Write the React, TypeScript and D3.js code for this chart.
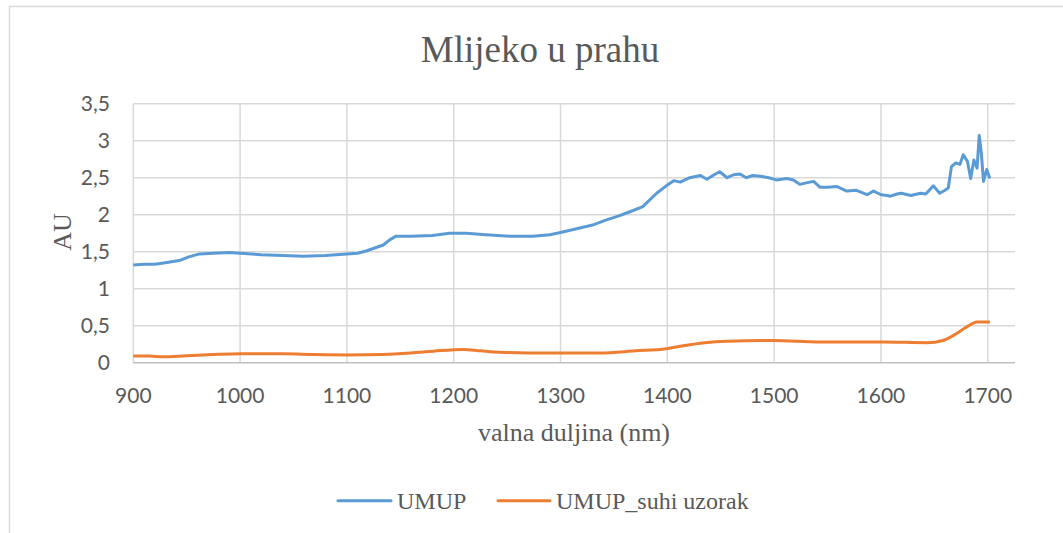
import React from 'react';
import * as d3 from 'd3';

// UMUP (blue) – wavelength / absorbance
const umupNm = [900, 910, 920, 930, 943, 952, 962, 975, 990, 1000, 1020, 1040, 1059, 1080, 1100, 1110, 1118, 1126, 1134, 1140, 1146, 1160, 1180, 1196, 1212, 1230, 1253, 1274, 1290, 1300, 1315, 1330, 1343, 1354, 1365, 1377, 1390, 1399, 1406, 1412, 1421, 1431, 1437, 1445, 1449, 1456, 1462, 1468, 1474, 1480, 1487, 1495, 1502, 1512, 1518, 1524, 1530, 1537, 1543, 1550, 1559, 1568, 1577, 1587, 1593, 1600, 1606, 1609, 1615, 1619, 1628, 1637, 1642, 1649, 1655, 1660, 1663, 1666, 1670, 1674, 1677, 1681, 1684, 1687, 1690, 1692, 1694, 1696, 1699, 1702];
const umupAU = [1.32, 1.33, 1.33, 1.35, 1.38, 1.43, 1.47, 1.48, 1.49, 1.48, 1.46, 1.45, 1.44, 1.45, 1.47, 1.48, 1.51, 1.55, 1.59, 1.66, 1.71, 1.71, 1.72, 1.75, 1.75, 1.73, 1.71, 1.71, 1.73, 1.76, 1.81, 1.86, 1.93, 1.98, 2.04, 2.11, 2.29, 2.39, 2.46, 2.44, 2.5, 2.53, 2.48, 2.55, 2.58, 2.5, 2.54, 2.55, 2.5, 2.53, 2.52, 2.5, 2.47, 2.49, 2.47, 2.41, 2.43, 2.45, 2.37, 2.37, 2.38, 2.32, 2.33, 2.27, 2.32, 2.27, 2.26, 2.25, 2.28, 2.29, 2.26, 2.29, 2.28, 2.39, 2.29, 2.33, 2.36, 2.65, 2.7, 2.68, 2.81, 2.72, 2.49, 2.74, 2.63, 3.07, 2.83, 2.45, 2.61, 2.49];

// UMUP_suhi uzorak (orange)
const suhiNm = [900, 915, 928, 950, 975, 1001, 1040, 1070, 1100, 1134, 1160, 1181, 1209, 1225, 1243, 1290, 1337, 1370, 1399, 1415, 1435, 1456, 1499, 1543, 1602, 1643, 1658, 1668, 1680, 1690, 1702];
const suhiAU = [0.09, 0.09, 0.08, 0.095, 0.11, 0.12, 0.12, 0.11, 0.105, 0.11, 0.13, 0.155, 0.18, 0.16, 0.14, 0.13, 0.13, 0.16, 0.19, 0.23, 0.27, 0.29, 0.3, 0.28, 0.28, 0.27, 0.3, 0.37, 0.48, 0.55, 0.55];

const xTicks = [900, 1000, 1100, 1200, 1300, 1400, 1500, 1600, 1700];
const yTicks = [0, 0.5, 1, 1.5, 2, 2.5, 3, 3.5];

const seriesNames = ['UMUP', 'UMUP_suhi uzorak'];
const seriesColors = ['#5B9BD5', '#ED7D31'];

const W = 1063;
const H = 533;
const plot = { left: 133.3, right: 1015, top: 103.7, bottom: 362.7 };

export default function App() {
  const x = d3.scaleLinear().domain([900, 1725.5]).range([plot.left, plot.right]);
  const y = d3.scaleLinear().domain([0, 3.5]).range([plot.bottom, plot.top]);

  const line = d3.line<[number, number]>()
    .x(d => x(d[0]))
    .y(d => y(d[1]));
  const smooth = d3.line<[number, number]>()
    .x(d => x(d[0]))
    .y(d => y(d[1]))
    .curve(d3.curveMonotoneX);

  const umup = umupNm.map((n, i) => [n, umupAU[i]] as [number, number]);
  const suhi = suhiNm.map((n, i) => [n, suhiAU[i]] as [number, number]);

  const tickFont = 'Lato, "Open Sans", sans-serif';
  const serif = '"Liberation Serif", "DejaVu Serif", serif';
  const fmt = (v: number) => String(v).replace('.', ',');

  return (
    <svg width={W} height={H} style={{ position: 'absolute', left: 0, top: 0 }}>
      <rect x={0} y={0} width={W} height={H} fill="#fff" />
      <rect x={9.5} y={6.5} width={1070} height={560} fill="none" stroke="#D9D9D9" strokeWidth={1.5} />

      <text x={540} y={62} textAnchor="middle" fontFamily={serif} fontSize={37} fill="#595959">
        Mlijeko u prahu
      </text>

      {/* grid */}
      {yTicks.filter(t => t > 0).map(t => (
        <line key={'gy' + t} x1={plot.left} x2={plot.right} y1={y(t)} y2={y(t)} stroke="#D9D9D9" strokeWidth={1.5} />
      ))}
      {xTicks.filter(t => t > 900).map(t => (
        <line key={'gx' + t} x1={x(t)} x2={x(t)} y1={plot.top} y2={plot.bottom} stroke="#D9D9D9" strokeWidth={1.5} />
      ))}
      <line x1={plot.left} x2={plot.left} y1={plot.top} y2={plot.bottom} stroke="#D9D9D9" strokeWidth={1.5} />
      <line x1={plot.left} x2={plot.right} y1={plot.bottom} y2={plot.bottom} stroke="#BFBFBF" strokeWidth={1.5} />

      {/* tick labels */}
      {yTicks.map(t => (
        <text key={'ly' + t} x={110} y={y(t)} dy="0.35em" textAnchor="end" fontFamily={tickFont} fontSize={21} fill="#595959">
          {fmt(t)}
        </text>
      ))}
      {xTicks.map(t => (
        <text key={'lx' + t} x={x(t)} y={402.5} textAnchor="middle" fontFamily={tickFont} fontSize={21} fill="#595959">
          {t}
        </text>
      ))}

      {/* axis titles */}
      <text x={574} y={441} textAnchor="middle" fontFamily={serif} fontSize={26} fill="#595959">
        valna duljina (nm)
      </text>
      <text transform="translate(71,232) rotate(-90)" textAnchor="middle" fontFamily={serif} fontSize={26} fill="#595959">
        AU
      </text>

      {/* series */}
      <path d={smooth(suhi) || ''} fill="none" stroke={seriesColors[1]} strokeWidth={3} strokeLinejoin="round" />
      <path d={line(umup) || ''} fill="none" stroke={seriesColors[0]} strokeWidth={3} strokeLinejoin="round" />

      {/* legend */}
      <line x1={338} x2={391} y1={500.7} y2={500.7} stroke={seriesColors[0]} strokeWidth={3} strokeLinecap="round" />
      <text x={397} y={509} fontFamily={serif} fontSize={24} fill="#595959">{seriesNames[0]}</text>
      <line x1={498} x2={550} y1={500.7} y2={500.7} stroke={seriesColors[1]} strokeWidth={3} strokeLinecap="round" />
      <text x={556} y={509} fontFamily={serif} fontSize={24} fill="#595959">{seriesNames[1]}</text>
    </svg>
  );
}
